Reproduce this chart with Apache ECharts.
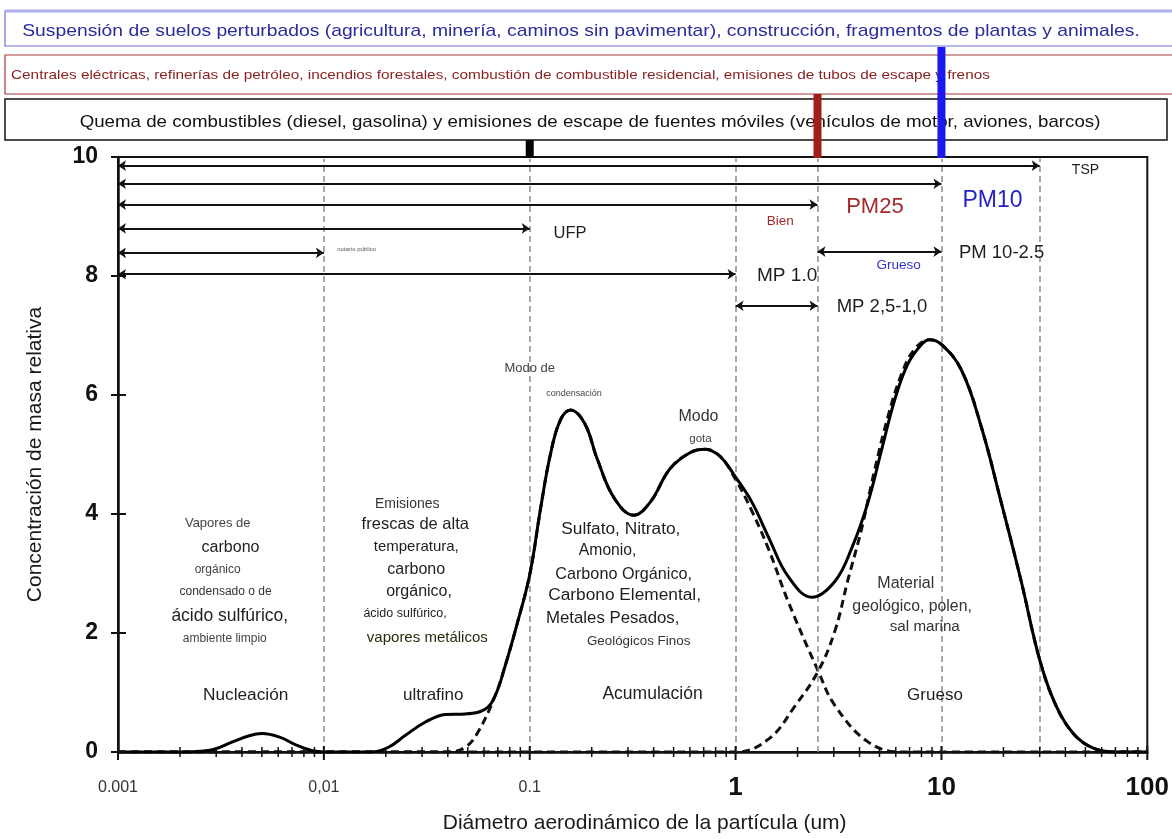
<!DOCTYPE html>
<html><head><meta charset="utf-8">
<script src="https://cdn.jsdelivr.net/npm/echarts@6/dist/echarts.min.js"></script>
<style>html,body{margin:0;padding:0;background:#fff}#c{width:1172px;height:839px}</style>
</head><body><div id="c"></div>
<script>
// ---------- data ----------
const totalCurve = [[0.001,0],[0.002,0],[0.0028,0.03],[0.0036,0.17],[0.0043,0.27],[0.005,0.31],[0.0061,0.25],[0.0073,0.12],[0.0088,0.02],[0.01,0],[0.017,0],[0.0206,0.08],[0.0249,0.28],[0.031,0.5],[0.039,0.63],[0.0486,0.64],[0.0607,0.72],[0.068,0.95],[0.076,1.45],[0.086,2.1],[0.1,2.98],[0.113,4.1],[0.126,5.0],[0.141,5.58],[0.158,5.75],[0.185,5.52],[0.213,4.92],[0.258,4.26],[0.32,3.98],[0.385,4.2],[0.48,4.76],[0.6,5.03],[0.71,5.09],[0.84,4.97],[1.0,4.62],[1.2,4.2],[1.45,3.6],[1.8,2.95],[2.35,2.6],[3.04,2.87],[3.67,3.43],[4.4,4.2],[5.13,5.09],[5.93,5.92],[6.86,6.52],[8.0,6.85],[8.75,6.93],[10,6.85],[12.5,6.42],[15.6,5.47],[19.5,4.2],[24.4,2.87],[30,1.55],[36,0.78],[44,0.3],[55,0.06],[70,0],[100,0]];
const fineMode = [[0.001,0],[0.04,0],[0.0486,0.08],[0.056,0.33],[0.068,0.95],[0.076,1.45],[0.086,2.1],[0.1,2.98],[0.113,4.1],[0.126,5.0],[0.141,5.58],[0.158,5.75],[0.185,5.52],[0.213,4.92],[0.258,4.26],[0.32,3.98],[0.385,4.2],[0.48,4.76],[0.6,5.03],[0.71,5.09],[0.84,4.97],[1.0,4.58],[1.2,4.05],[1.45,3.4],[1.8,2.53],[2.52,1.36],[3.04,0.78],[4.4,0.17],[6.4,0],[100,0]];
const coarseMode = [[0.001,0],[1.0,0],[1.45,0.22],[1.95,0.78],[2.52,1.36],[3.04,2.04],[3.5,2.87],[4.1,3.76],[4.7,4.69],[5.5,5.64],[6.4,6.35],[7.4,6.77],[8.75,6.93],[10,6.85],[12.5,6.42],[15.6,5.47],[19.5,4.2],[24.4,2.87],[30,1.55],[36,0.78],[44,0.3],[55,0.06],[70,0],[100,0]];
const xTickLabels = ['0.001','0,01','0.1','1','10','100'];
const yTickValues = [0, 2, 4, 6, 8, 10];
const guideX = [0.01, 0.1, 1, 2.5, 10, 30];
const arrowY = [9.855, 9.55, 9.2, 8.8, 8.39, 8.03, 8.41, 7.5];
const arrowFrom = [0.001, 0.001, 0.001, 0.001, 0.001, 0.001, 2.5, 1];
const arrowTo = [30, 10, 2.5, 0.1, 0.01, 1, 10, 2.5];
const markerX = [0.1, 2.5, 10];

// ---------- annotations (text, data position) ----------
const notes = [
 {t:'TSP', x:43, y:9.78, s:14, al:'left'},
 {t:'PM10', x:17.7, y:9.27, s:23, c:'#2323c8'},
 {t:'PM25', x:4.75, y:9.16, s:22, c:'#a32a2a'},
 {t:'Bien', x:1.65, y:8.92, s:13.5, c:'#a32a2a'},
 {t:'PM 10-2.5', x:19.6, y:8.38, s:18.5},
 {t:'Grueso', x:6.2, y:8.18, s:13.5, c:'#3434c8'},
 {t:'MP 1.0', x:1.78, y:8.0, s:19},
 {t:'MP 2,5-1,0', x:5.14, y:7.48, s:18.5},
 {t:'UFP', x:0.157, y:8.72, s:16.5},
 {t:'notario público', x:0.0116, y:8.44, s:6, al:'left', c:'#555'},
 {t:'Modo de', x:0.1, y:6.44, s:13, c:'#444'},
 {t:'condensación', x:0.164, y:6.02, s:9, c:'#444'},
 {t:'Modo', x:0.66, y:5.64, s:16, c:'#333'},
 {t:'gota', x:0.675, y:5.26, s:11.5, c:'#444'},
 {t:'Vapores de', x:0.00305, y:3.84, s:13, c:'#444'},
 {t:'carbono', x:0.00352, y:3.44, s:16},
 {t:'orgánico', x:0.00305, y:3.07, s:12, c:'#444'},
 {t:'condensado o de', x:0.00333, y:2.69, s:12, c:'#333'},
 {t:'ácido sulfúrico,', x:0.00349, y:2.29, s:17.5},
 {t:'ambiente limpio', x:0.0033, y:1.91, s:12, c:'#444'},
 {t:'Emisiones', x:0.0254, y:4.17, s:14, c:'#333'},
 {t:'frescas de alta', x:0.0278, y:3.82, s:16.5},
 {t:'temperatura,', x:0.0281, y:3.44, s:15},
 {t:'carbono', x:0.0281, y:3.06, s:16},
 {t:'orgánico,', x:0.029, y:2.69, s:16},
 {t:'ácido sulfúrico,', x:0.0248, y:2.33, s:12.5},
 {t:'vapores metálicos', x:0.0318, y:1.91, s:15, c:'#2a2a10'},
 {t:'Sulfato, Nitrato,', x:0.277, y:3.74, s:17.3},
 {t:'Amonio,', x:0.239, y:3.39, s:15.7},
 {t:'Carbono Orgánico,', x:0.286, y:2.99, s:16.2},
 {t:'Carbono Elemental,', x:0.289, y:2.63, s:17.3},
 {t:'Metales Pesados,', x:0.253, y:2.25, s:16.8},
 {t:'Geológicos Finos', x:0.338, y:1.86, s:13.4, c:'#333'},
 {t:'Acumulación', x:0.395, y:0.97, s:17.5},
 {t:'ultrafino', x:0.034, y:0.95, s:17},
 {t:'Nucleación', x:0.00417, y:0.95, s:17.3},
 {t:'Grueso', x:9.3, y:0.95, s:17},
 {t:'Material', x:6.71, y:2.83, s:16, c:'#333'},
 {t:'geológico, polen,', x:7.2, y:2.44, s:15.8, c:'#333'},
 {t:'sal marina', x:8.3, y:2.11, s:15.2, c:'#333'}
];

// x-axis tick positions (decades and 2..9 subdivisions)
const xTicks = [];
for (let e = -3; e <= 1; e++) for (let d = 1; d <= 9; d++) xTicks.push([d * Math.pow(10, e), d === 1 ? 1 : 0]);
xTicks.push([100, 1]);

const FONT = '"Liberation Sans", Arial, sans-serif';
const chart = echarts.init(document.getElementById('c'), null, {renderer: 'canvas'});

const markerStyle = [{top: 140, color: '#050505'}, {top: 94, color: '#a31d1d'}, {top: 47, color: '#1a1aee'}];

const option = {
  animation: false,
  backgroundColor: '#fff',
  grid: {left: 118, right: 22, top: 157, bottom: 79, show: true, borderColor: '#111', borderWidth: 2, backgroundColor: 'transparent'},
  xAxis: {
    type: 'log', logBase: 10, min: 0.001, max: 100,
    name: 'Diámetro aerodinámico de la partícula (um)', nameLocation: 'middle', nameGap: 61,
    nameTextStyle: {fontSize: 21, color: '#1a1a1a', fontFamily: FONT, padding: [0, 0, 0, 24]},
    axisLine: {show: true, lineStyle: {color: '#111', width: 2.5}},
    axisTick: {show: false}, minorTick: {show: false}, splitLine: {show: false},
    axisLabel: {
      margin: 22, showMinLabel: true, showMaxLabel: true,
      formatter: v => { const i = Math.round(Math.log10(v)) + 3; const t = xTickLabels[i]; return i < 3 ? '{s|' + t + '}' : '{b|' + t + '}'; },
      rich: {
        s: {fontSize: 16, color: '#333', lineHeight: 28, fontFamily: FONT},
        b: {fontSize: 26, fontWeight: 'bold', color: '#111', lineHeight: 28, fontFamily: FONT}
      }
    }
  },
  yAxis: {
    type: 'value', min: 0, max: 10, interval: 2,
    name: 'Concentración de masa relativa', nameLocation: 'middle', nameGap: 72, nameRotate: 90,
    nameTextStyle: {fontSize: 21, color: '#1a1a1a', fontFamily: FONT},
    axisLine: {show: true, lineStyle: {color: '#111', width: 2.5}},
    axisTick: {show: false},
    splitLine: {show: false},
    axisLabel: {margin: 20, fontSize: 23, fontWeight: 'bold', color: '#111', fontFamily: FONT}
  },
  graphic: {elements: [
    {type: 'rect', z: 1, shape: {x: 5, y: 11, width: 1190, height: 35}, style: {fill: '#fff', stroke: '#6d6dd2', lineWidth: 1.2}},
    {type: 'line', z: 1, shape: {x1: 5, y1: 11, x2: 1172, y2: 11}, style: {stroke: '#aeb0ee', lineWidth: 3}},
    {type: 'text', z: 1, x: 581, y: 31, scaleX: 1.135, style: {text: 'Suspensión de suelos perturbados (agricultura, minería, caminos sin pavimentar), construcción, fragmentos de plantas y animales.', fontSize: 17, fontFamily: FONT, fill: '#2b2b9e', align: 'center', verticalAlign: 'middle'}},
    {type: 'rect', z: 1, shape: {x: 5, y: 55, width: 1190, height: 39}, style: {fill: '#fff', stroke: '#a83a3a', lineWidth: 1.2}},
    {type: 'text', z: 1, x: 11, y: 75, scaleX: 1.18, style: {text: 'Centrales eléctricas, refinerías de petróleo, incendios forestales, combustión de combustible residencial, emisiones de tubos de escape y frenos', fontSize: 13, fontFamily: FONT, fill: '#8a2222', align: 'left', verticalAlign: 'middle'}},
    {type: 'rect', z: 1, shape: {x: 5, y: 99, width: 1162, height: 41}, style: {fill: '#fff', stroke: '#111', lineWidth: 1.5}},
    {type: 'text', z: 1, x: 590, y: 122, scaleX: 1.1, style: {text: 'Quema de combustibles (diesel, gasolina) y emisiones de escape de fuentes móviles (vehículos de motor, aviones, barcos)', fontSize: 17, fontFamily: FONT, fill: '#111', align: 'center', verticalAlign: 'middle'}}
  ]},
  series: [
    {
      name: 'fino', type: 'line', data: fineMode, smooth: 0.4, symbol: 'none', silent: true, z: 3,
      lineStyle: {color: '#111', width: 3, type: [8, 5]},
      markLine: {
        silent: true, symbol: 'none', label: {show: false}, animation: false,
        lineStyle: {color: '#8c8c8c', width: 1.5, type: [6, 4]},
        data: guideX.map(x => [{coord: [x, 0]}, {coord: [x, 9.97]}])
      }
    },
    {
      name: 'grueso', type: 'line', data: coarseMode, smooth: 0.4, symbol: 'none', silent: true, z: 3,
      lineStyle: {color: '#111', width: 3, type: [8, 5]},
      markLine: {
        silent: true, symbol: ['arrow', 'arrow'], symbolSize: 8, label: {show: false}, animation: false,
        lineStyle: {color: '#111', width: 2, type: 'solid'},
        data: arrowY.map((y, i) => [{coord: [arrowFrom[i], y]}, {coord: [arrowTo[i], y]}])
      }
    },
    {
      name: 'total', type: 'line', data: totalCurve, smooth: 0.4, symbol: 'none', silent: true, z: 5,
      lineStyle: {color: '#000', width: 3}
    },
    {
      name: 'xticks', type: 'custom', silent: true, clip: false, z: 6,
      data: xTicks,
      renderItem: (params, api) => {
        const p = api.coord([api.value(0), 0]);
        const major = api.value(1) === 1;
        return {type: 'line', shape: {x1: p[0], y1: p[1] - (major ? 6 : 5), x2: p[0], y2: p[1] + (major ? 8 : 5)},
                style: {stroke: '#111', lineWidth: major ? 2 : 1.5}};
      }
    },
    {
      name: 'yticks', type: 'custom', silent: true, clip: false, z: 6,
      data: yTickValues.map(v => [0.001, v]),
      renderItem: (params, api) => {
        const p = api.coord([api.value(0), api.value(1)]);
        return {type: 'line', shape: {x1: p[0] - 7, y1: p[1], x2: p[0] + 8, y2: p[1]}, style: {stroke: '#111', lineWidth: 2}};
      }
    },
    {
      name: 'markers', type: 'custom', silent: true, clip: false, z: 20,
      data: markerX.map(x => [x, 10]),
      renderItem: (params, api) => {
        const p = api.coord([api.value(0), api.value(1)]);
        const m = markerStyle[params.dataIndex];
        return {type: 'rect', shape: {x: p[0] - 4, y: m.top, width: 8, height: p[1] - m.top + 1}, style: {fill: m.color}};
      }
    },
    {
      name: 'notes', type: 'custom', silent: true, clip: false, z: 8,
      data: notes.map(n => [n.x, n.y]),
      renderItem: (params, api) => {
        const n = notes[params.dataIndex];
        const p = api.coord([api.value(0), api.value(1)]);
        return {type: 'text', x: p[0], y: p[1], style: {text: n.t, fontSize: n.s, fontFamily: FONT, fill: n.c || '#1e1e1e', align: n.al || 'center', verticalAlign: 'middle'}};
      }
    }
  ]
};
chart.setOption(option);
</script>
</body></html>
